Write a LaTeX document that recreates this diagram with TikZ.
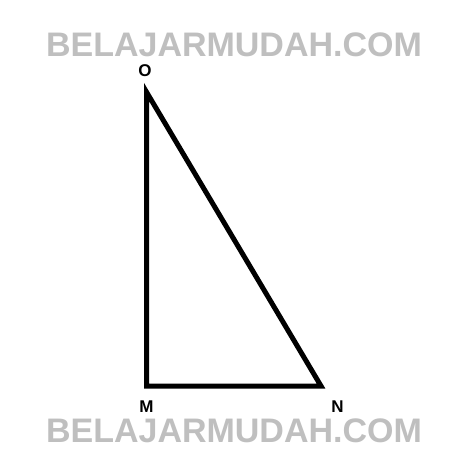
\documentclass[tikz,border=0pt]{standalone}
\usepackage{fontspec}
\setmainfont{Liberation Sans}
\definecolor{wmgray}{RGB}{191,191,191}
\tikzset{
  wmark/.style={text=wmgray,font=\fontsize{34}{34}\selectfont\bfseries,inner sep=0pt},
  vlabel/.style={font=\fontsize{17}{17}\selectfont\bfseries,inner sep=0pt}
}
\begin{document}
\begin{tikzpicture}[x=1pt,y=-1pt]
\useasboundingbox[fill=white] (0,0) rectangle (472,472);
\node[wmark] (wmtop) at (234,45) {BELAJARMUDAH.COM};
\node[wmark] (wmbot) at (234,431) {BELAJARMUDAH.COM};
\coordinate (O) at (146.5,92);
\coordinate (M) at (146.5,386);
\coordinate (N) at (321,386);
\draw[line width=5pt,line join=miter] (O) -- (M) -- (N) -- cycle;
\node[vlabel] (labO) at (145,71) {O};
\node[vlabel] (labM) at (146.5,407) {M};
\node[vlabel] (labN) at (337.5,407) {N};
\end{tikzpicture}
\end{document}
